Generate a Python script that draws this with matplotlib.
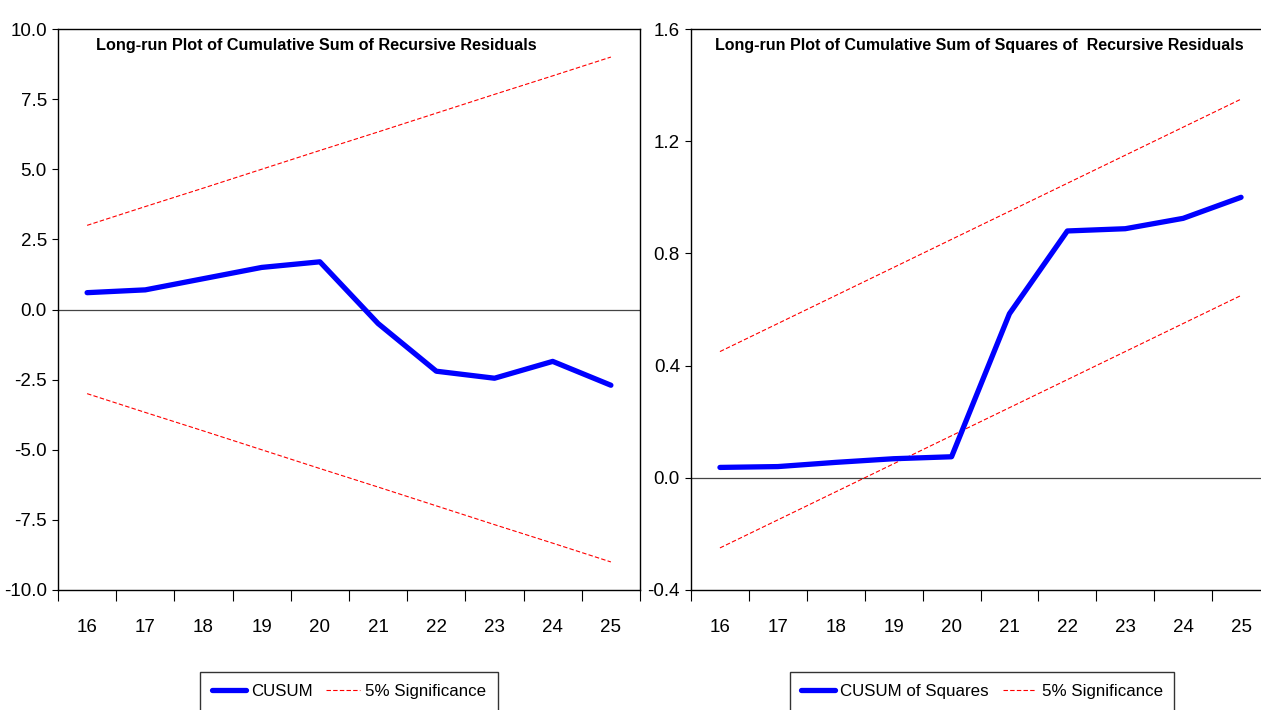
import matplotlib
matplotlib.use('Agg')
import matplotlib.pyplot as plt

# Arial-like font, sizes picked so the text widths match the EViews output
plt.rcParams['font.family'] = ['Liberation Sans', 'DejaVu Sans']

# data
years = [16, 17, 18, 19, 20, 21, 22, 23, 24, 25]
cusum = [0.6, 0.7, 1.1, 1.5, 1.7, -0.5, -2.2, -2.45, -1.85, -2.7]
cusum_upper = [3.0, 3.67, 4.33, 5.0, 5.67, 6.33, 7.0, 7.67, 8.33, 9.0]
cusum_lower = [-3.0, -3.67, -4.33, -5.0, -5.67, -6.33, -7.0, -7.67, -8.33, -9.0]

cusumsq = [0.037, 0.04, 0.055, 0.068, 0.075, 0.585, 0.88, 0.888, 0.925, 1.0]
cusumsq_upper = [0.45, 0.55, 0.65, 0.75, 0.85, 0.95, 1.05, 1.15, 1.25, 1.35]
cusumsq_lower = [-0.25, -0.15, -0.05, 0.05, 0.15, 0.25, 0.35, 0.45, 0.55, 0.65]

left_yticks = [-10.0, -7.5, -5.0, -2.5, 0.0, 2.5, 5.0, 7.5, 10.0]
right_yticks = [-0.4, 0.0, 0.4, 0.8, 1.2, 1.6]

title_left = 'Long-run Plot of Cumulative Sum of Recursive Residuals'
title_right = 'Long-run Plot of Cumulative Sum of Squares of  Recursive Residuals'

W, H = 1261, 710
fig = plt.figure(figsize=(W / 100, H / 100), dpi=100)

def px_axes(x0, x1, y0, y1):
    return fig.add_axes([x0 / W, 1 - y1 / H, (x1 - x0) / W, (y1 - y0) / H])

ax1 = px_axes(58, 640, 29, 590)
ax2 = px_axes(691, 1270, 29, 590)


def style(ax, yticks, fmt):
    ax.set_xlim(15.5, 25.5)
    ax.set_ylim(yticks[0], yticks[-1])
    ax.axhline(0, color='#444444', lw=0.9, zorder=1)
    # ticks between categories, labels on the categories
    ax.set_xticks([x + 0.5 for x in [15] + years])
    ax.set_xticklabels([])
    ax.set_xticks(years, minor=True)
    ax.set_xticklabels([str(y) for y in years], minor=True, fontsize=13.5)
    ax.tick_params(axis='x', which='major', direction='out', length=8, width=0.8)
    ax.tick_params(axis='x', which='minor', length=0, pad=21)
    ax.set_yticks(yticks)
    ax.set_yticklabels([fmt % v for v in yticks], fontsize=13.5)
    ax.tick_params(axis='y', direction='out', length=4, width=0.8, pad=4)
    for s in ax.spines.values():
        s.set_linewidth(1.0)


l1, = ax1.plot(years, cusum, color='#0000ff', lw=3.8, solid_capstyle='round',
               solid_joinstyle='round', label='CUSUM', zorder=3)
l2, = ax1.plot(years, cusum_upper, color='red', lw=0.8, dashes=(4, 2), label='5% Significance')
ax1.plot(years, cusum_lower, color='red', lw=0.8, dashes=(4, 2))
style(ax1, left_yticks, '%.1f')
ax1.text(0.065, 0.971, title_left, transform=ax1.transAxes, fontsize=11.7,
         fontweight='bold', ha='left', va='center')

r1, = ax2.plot(years, cusumsq, color='#0000ff', lw=3.8, solid_capstyle='round',
               solid_joinstyle='round', label='CUSUM of Squares', zorder=3)
r2, = ax2.plot(years, cusumsq_upper, color='red', lw=0.8, dashes=(4, 2), label='5% Significance')
ax2.plot(years, cusumsq_lower, color='red', lw=0.8, dashes=(4, 2))
style(ax2, right_yticks, '%.1f')
ax2.text(0.042, 0.971, title_right, transform=ax2.transAxes, fontsize=11.5,
         fontweight='bold', ha='left', va='center')

for handles, cx in [([l1, l2], 349), ([r1, r2], 982)]:
    leg = fig.legend(handles=handles, loc='upper center', bbox_to_anchor=(cx / W, 1 - 672 / H),
                     ncol=2, fontsize=12.2, frameon=True, fancybox=False, handlelength=2.0,
                     handletextpad=0.3, columnspacing=0.8, borderpad=0.7, borderaxespad=0)
    leg.get_frame().set_edgecolor('black')
    leg.get_frame().set_linewidth(1.0)

fig.savefig('out.png', dpi=100)
